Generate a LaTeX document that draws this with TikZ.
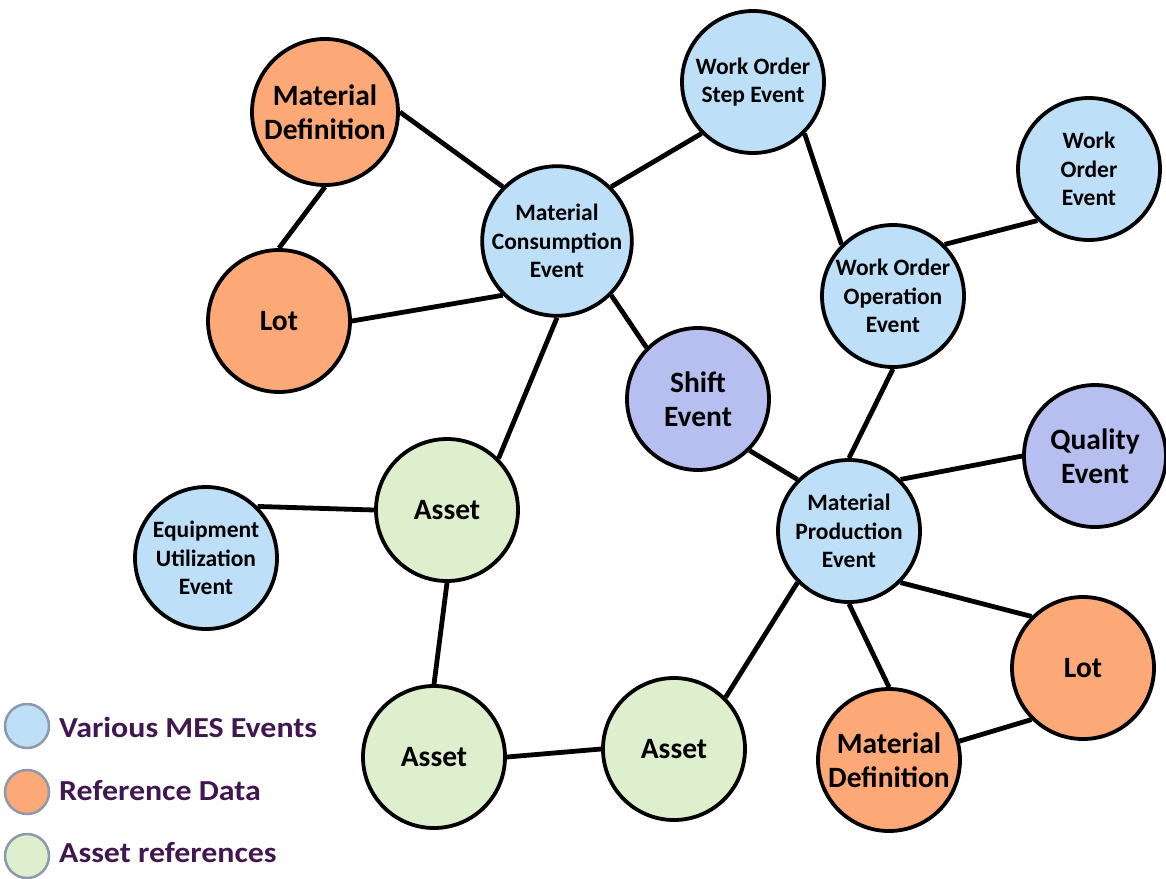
\documentclass[tikz,border=0pt]{standalone}
\usepackage{fontspec}
\setmainfont{Carlito}
\newfontfamily\legfont[FakeStretch=1.1]{Carlito}
\definecolor{evblue}{HTML}{BDDFF8}
\definecolor{reforange}{HTML}{FCA877}
\definecolor{assetgreen}{HTML}{DDEFCC}
\definecolor{evpurple}{HTML}{B7BFF0}
\definecolor{legendgray}{HTML}{8E9AAB}
\definecolor{legendtext}{HTML}{40174F}
\begin{document}
\begin{tikzpicture}[x=1pt,y=-1pt,
  nodebase/.style={circle, draw=black, line width=3.8pt, minimum size=142pt, inner sep=0pt, align=center, font=\bfseries},
  bigtxt/.style={nodebase, font=\fontsize{29.5}{34}\selectfont\bfseries},
  smalltxt/.style={nodebase, font=\fontsize{23.5}{28.5}\selectfont\bfseries},
  edge/.style={line width=4.8pt},
  legcircle/.style={circle, draw=legendgray, line width=2.5pt, minimum size=44pt, inner sep=0pt},
  legtext/.style={anchor=west, text=legendtext, font=\legfont\fontsize{29}{33}\selectfont\bfseries, inner sep=0pt}
]
\useasboundingbox (0,0) rectangle (1166,878);

% nodes
\node[bigtxt, fill=reforange, minimum size=146pt] (md1) at (325,112) {Material\\Definition};
\node[bigtxt, fill=reforange] (lot1) at (279,321) {Lot};
\node[smalltxt, fill=evblue] (mce) at (557,241) {Material\\Consumption\\Event};
\node[smalltxt, fill=evblue] (wos) at (753,82) {Work Order\\Step Event};
\node[smalltxt, fill=evblue] (woe) at (1089,169) {Work\\Order\\Event};
\node[smalltxt, fill=evblue] (woo) at (893,296) {Work Order\\Operation\\Event};
\node[bigtxt, fill=evpurple] (shift) at (698,399) {Shift\\Event};
\node[bigtxt, fill=evpurple] (qual) at (1095,456) {Quality\\Event};
\node[smalltxt, fill=evblue] (mpe) at (849,531) {Material\\Production\\Event};
\node[bigtxt, fill=assetgreen] (as1) at (447,510) {Asset};
\node[smalltxt, fill=evblue] (eue) at (206,558) {Equipment\\Utilization\\Event};
\node[bigtxt, fill=assetgreen] (as2) at (434,757) {Asset};
\node[bigtxt, fill=assetgreen] (as3) at (674,749) {Asset};
\node[bigtxt, fill=reforange] (lot2) at (1083,668) {Lot};
\node[bigtxt, fill=reforange] (md2) at (889,760) {Material\\Definition};

% edges
\draw[edge] (md1.east) -- (mce.north west);
\draw[edge] (md1.south) -- (lot1.north);
\draw[edge] (lot1.east) -- (mce.south west);
\draw[edge] (mce.north east) -- (wos.south west);
\draw[edge] (mce.south east) -- (shift.north west);
\draw[edge] (mce.south) -- (as1.north east);
\draw[edge] (wos.south east) -- (woo.north west);
\draw[edge] (woo.north east) -- (woe.south west);
\draw[edge] (woo.south) -- (mpe.north);
\draw[edge] (shift.south east) -- (mpe.north west);
\draw[edge] (mpe.north east) -- (qual.west);
\draw[edge] (mpe.south east) -- (lot2.north west);
\draw[edge] (mpe.south) -- (md2.north);
\draw[edge] (mpe.south west) -- (as3.north east);
\draw[edge] (lot2.south west) -- (md2.15);
\draw[edge] (eue.north east) -- (as1.west);
\draw[edge] (as1.south) -- (as2.north);
\draw[edge] (as2.east) -- (as3.west);

% legend
\node[legcircle, fill=evblue] (l1) at (27,726) {};
\node[legcircle, fill=reforange] (l2) at (27,792) {};
\node[legcircle, fill=assetgreen] (l3) at (27,856) {};
\node[legtext] (t1) at (59,727) {Various MES Events};
\node[legtext] (t2) at (59,791) {Reference Data};
\node[legtext] (t3) at (59,853) {Asset references};
\end{tikzpicture}
\end{document}
